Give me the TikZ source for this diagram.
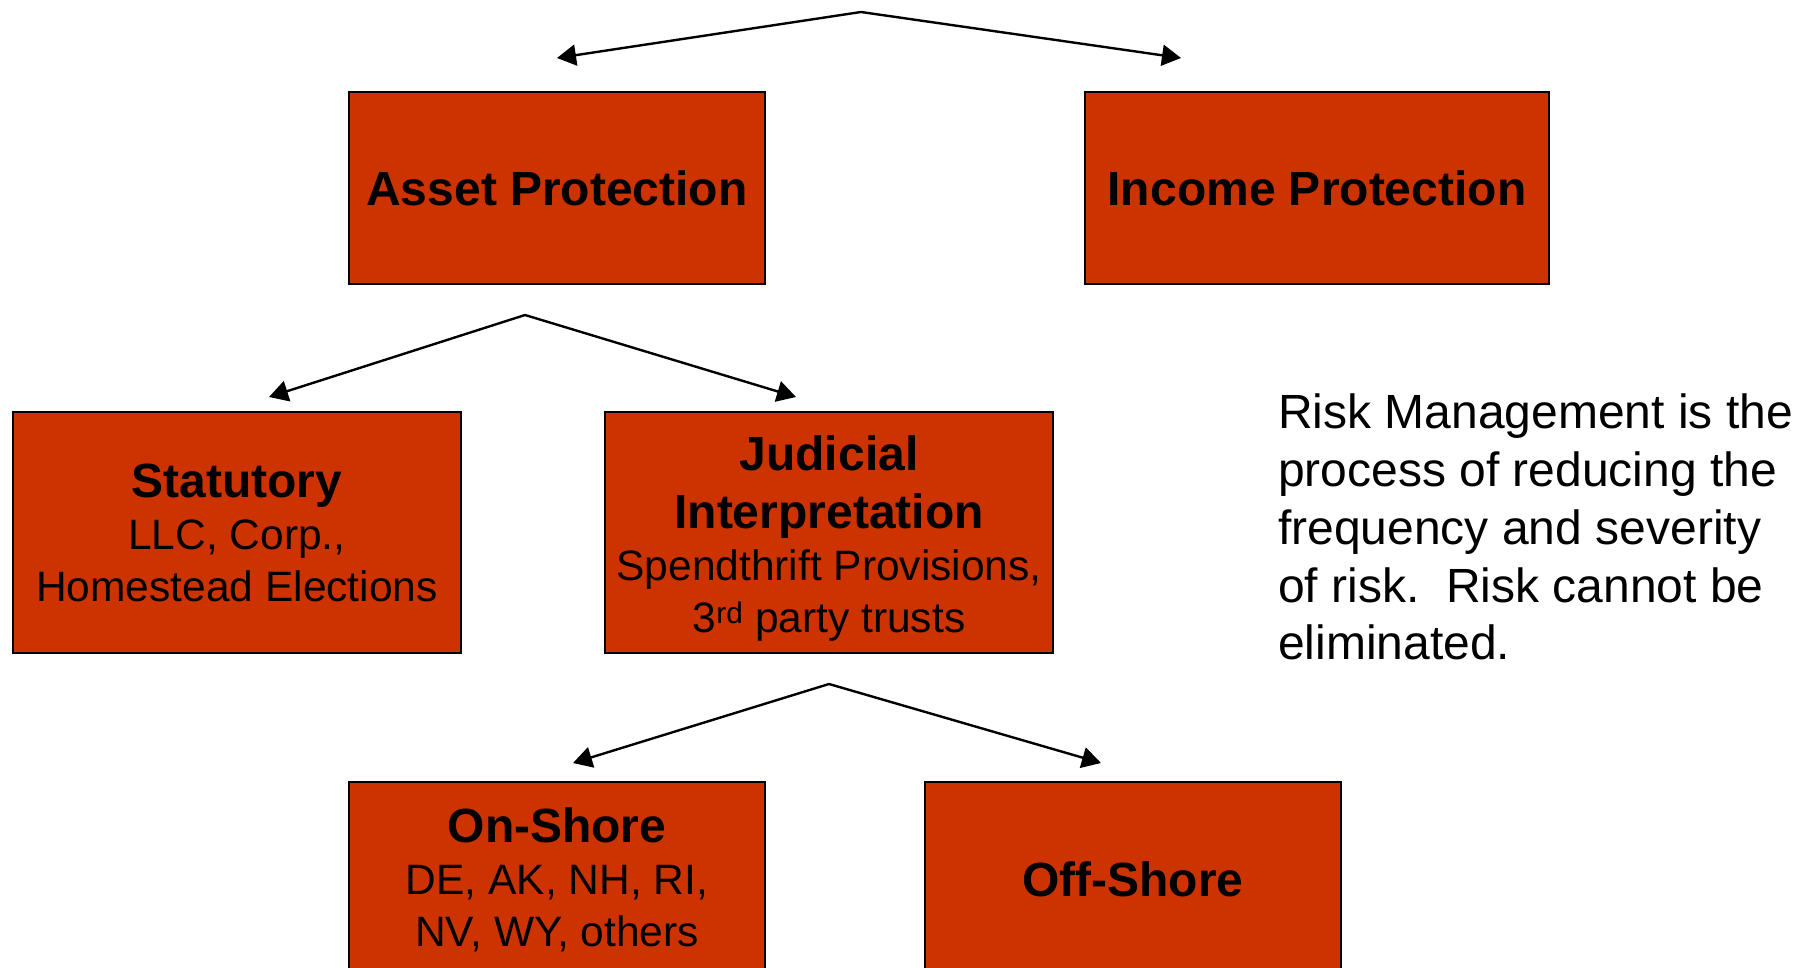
\documentclass[tikz,border=0pt]{standalone}
\usepackage{fontspec}
\setmainfont{Liberation Sans}
\usetikzlibrary{arrows.meta,calc}
\definecolor{boxred}{HTML}{CC3300}
\newcommand{\hd}[1]{{\fontsize{48}{57}\selectfont\bfseries #1}}
\begin{document}
\begin{tikzpicture}[x=1pt,y=-1pt,
  every node/.style={font=\fontsize{48}{56}\selectfont},
  box/.style={draw=black,line width=1.5pt,fill=boxred,rectangle,align=center,inner sep=0pt},
  sub/.style={font=\fontsize{42.5}{52}\selectfont},
  conn/.style={line width=2.4pt,-{Triangle[length=19pt,width=21pt]}}]
\clip (0,0) rectangle (1808,968);
\fill[white] (0,0) rectangle (1808,968);
% boxes
\node[box,minimum width=416,minimum height=192] (asset) at (557,188) {\bfseries Asset Protection};
\node[box,minimum width=464,minimum height=192] (income) at (1317,188) {\bfseries Income Protection};
\node[box,sub,minimum width=448,minimum height=241] (stat) at (237,532.5) {\hd{Statutory}\\LLC, Corp.,\\Homestead Elections};
\node[box,sub,minimum width=448,minimum height=241] (jud) at (829,532.5) {\rule{0pt}{47pt}\hd{Judicial}\\[6pt]\hd{Interpretation}\\Spendthrift Provisions,\\3\textsuperscript{rd} party trusts};
\node[box,sub,minimum width=416,minimum height=196,anchor=north] (on) at (557,781) {\hd{On-Shore}\\DE, AK, NH, RI,\\NV, WY, others};
\node[box,minimum width=416,minimum height=196,anchor=north] (off) at (1133,781) {\bfseries Off-Shore};
% risk text
\node[anchor=north west,align=left,inner sep=0pt,font=\fontsize{48}{57.7}\selectfont] (risk) at (1278,394)
  {Risk Management is the\\process of reducing the\\frequency and severity\\of risk.\ \ Risk cannot be\\eliminated.};
% connector points
\coordinate (apex1) at (861,12);
\coordinate (t1a) at (557,58);
\coordinate (t1b) at (1181,58);
\coordinate (apex2) at (525,315);
\coordinate (t2a) at (269,397);
\coordinate (t2b) at (796,397);
\coordinate (apex3) at (829,684);
\coordinate (t3a) at (573,763);
\coordinate (t3b) at (1101,763);
% connectors
\draw[conn] (apex1) -- (t1a);
\draw[conn] (apex1) -- (t1b);
\draw[conn] (apex2) -- (t2a);
\draw[conn] (apex2) -- (t2b);
\draw[conn] (apex3) -- (t3a);
\draw[conn] (apex3) -- (t3b);
\end{tikzpicture}
\end{document}
